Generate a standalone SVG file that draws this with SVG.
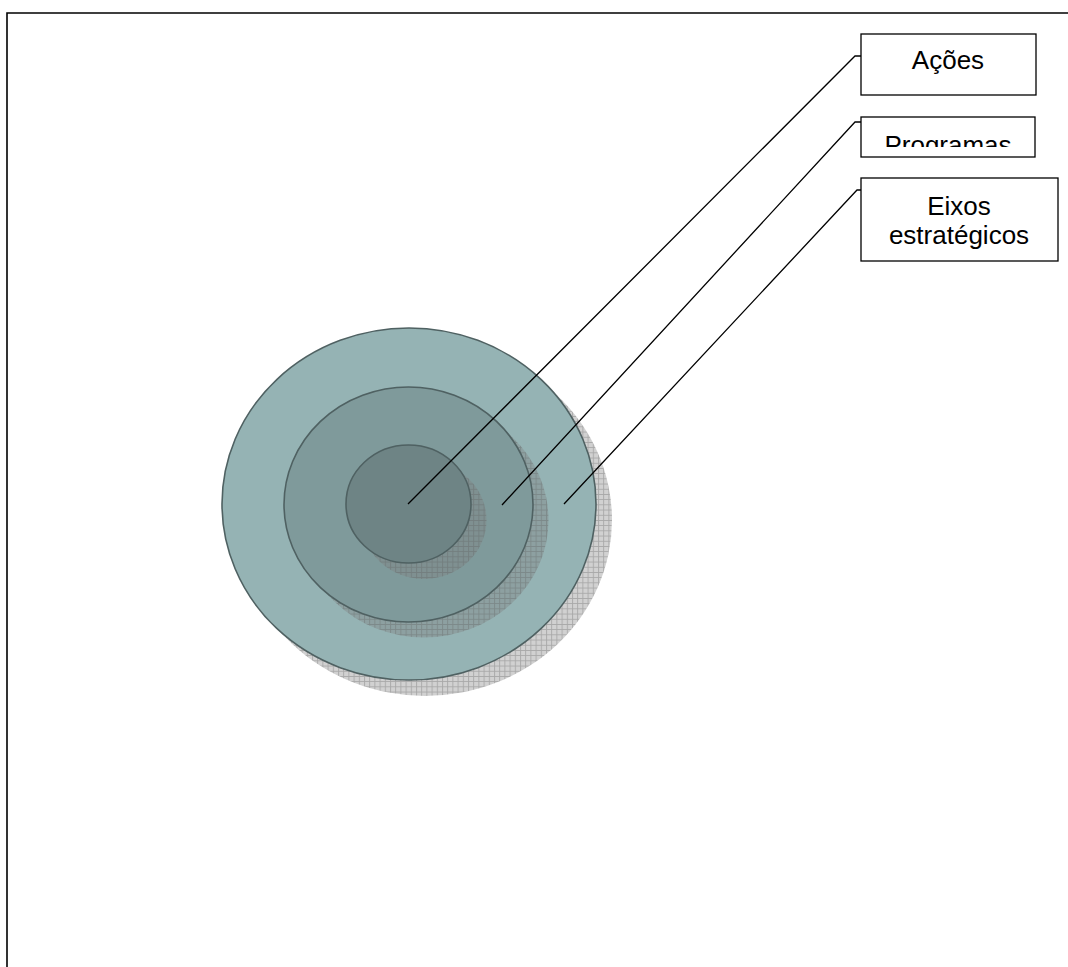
<svg xmlns="http://www.w3.org/2000/svg" width="1068" height="967" viewBox="0 0 1068 967">
<defs>
<style>
.frame{fill:none;stroke:#000;stroke-width:1.6}
.ring{stroke:#4f6162;stroke-width:1.6}
.shadow{fill:url(#grid)}
.lead{fill:none;stroke:#000;stroke-width:1.3}
.box{fill:#fff;stroke:#000;stroke-width:1.3}
.lbl{font-family:"Liberation Sans",Arial,sans-serif;font-size:26px;fill:#000;text-anchor:middle}
</style>
<pattern id="grid" width="5.2" height="5.2" patternUnits="userSpaceOnUse">
<rect width="5.2" height="5.2" fill="#808080" fill-opacity="0.36"/>
<path d="M0 0.5H5.2M0.5 0V5.2" stroke="#5a5a5a" stroke-opacity="0.35" stroke-width="0.9"/>
</pattern>
<clipPath id="clipProg"><rect x="861" y="117" width="174" height="30"/></clipPath>
</defs>
<rect width="1068" height="967" fill="#fff"/>
<path class="frame" d="M7 967V13H1068"/>
<g id="rings">
<ellipse class="shadow" cx="425" cy="520" rx="187" ry="176"/>
<ellipse class="ring" cx="409" cy="504" rx="187" ry="176" fill="#95b3b4"/>
<ellipse class="shadow" cx="424" cy="520" rx="124.5" ry="117.5"/>
<ellipse class="ring" cx="408.5" cy="504.5" rx="124.5" ry="117.5" fill="#7f9a9b"/>
<ellipse class="shadow" cx="424" cy="520" rx="62.5" ry="59"/>
<ellipse class="ring" cx="408.5" cy="504" rx="62.5" ry="59" fill="#6e8485"/>
</g>
<g id="connectors">
<polyline class="lead" points="408,504 855,56 861,56"/>
<polyline class="lead" points="502,505 855,122 861,122"/>
<polyline class="lead" points="564,504 857,190 861,190"/>
</g>
<g id="node-acoes">
<rect class="box" x="861" y="34" width="175" height="61"/>
<text class="lbl" x="948" y="69">Ações</text>
</g>
<g id="node-programas">
<rect class="box" x="861" y="117" width="174" height="40"/>
<text class="lbl" x="948" y="154" clip-path="url(#clipProg)">Programas</text>
</g>
<g id="node-eixos">
<rect class="box" x="861" y="178" width="197" height="83"/>
<text class="lbl" x="959" y="215">Eixos</text>
<text class="lbl" x="959" y="244">estratégicos</text>
</g>
</svg>
